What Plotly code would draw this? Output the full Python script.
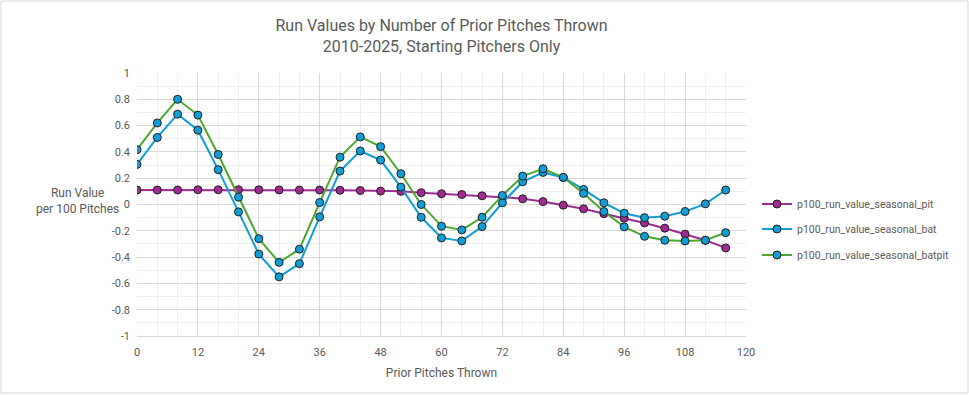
import plotly.graph_objects as go

pitches = [0, 4, 8, 12, 16, 20, 24, 28, 32, 36, 40, 44, 48, 52, 56, 60, 64, 68, 72, 76, 80, 84, 88, 92, 96, 100, 104, 108, 112, 116]
rv_pit = [0.11, 0.11, 0.11, 0.112, 0.112, 0.112, 0.112, 0.111, 0.11, 0.11, 0.108, 0.106, 0.102, 0.1, 0.09, 0.082, 0.076, 0.066, 0.056, 0.043, 0.022, -0.005, -0.033, -0.07, -0.104, -0.14, -0.18, -0.226, -0.272, -0.33]
rv_bat = [0.305, 0.51, 0.687, 0.565, 0.265, -0.056, -0.377, -0.55, -0.45, -0.094, 0.254, 0.407, 0.338, 0.132, -0.097, -0.254, -0.277, -0.168, 0.013, 0.173, 0.244, 0.206, 0.115, 0.013, -0.066, -0.10, -0.089, -0.053, 0.005, 0.11]
rv_batpit = [0.417, 0.62, 0.80, 0.68, 0.38, 0.056, -0.26, -0.44, -0.34, 0.015, 0.36, 0.514, 0.44, 0.234, 0.0, -0.165, -0.193, -0.097, 0.069, 0.216, 0.272, 0.206, 0.084, -0.053, -0.17, -0.242, -0.272, -0.277, -0.272, -0.214]

series_names = ["p100_run_value_seasonal_pit", "p100_run_value_seasonal_bat", "p100_run_value_seasonal_batpit"]
x_ticks = [0, 12, 24, 36, 48, 60, 72, 84, 96, 108, 120]
y_ticks = [1, 0.8, 0.6, 0.4, 0.2, 0, -0.2, -0.4, -0.6, -0.8, -1]
y_tick_text = ["1", "0.8", "0.6", "0.4", "0.2", "0", "-0.2", "-0.4", "-0.6", "-0.8", "-1"]

title_line1 = "Run Values by Number of Prior Pitches Thrown"
title_line2 = "2010-2025, Starting Pitchers Only"
x_title = "Prior Pitches Thrown"
y_title = "Run Value<br>per 100 Pitches"

FONT = "Roboto, Arial, sans-serif"
TXT = "#595959"
W, H = 969, 395
L, R, T, B = 137, 223, 73, 59
PW, PH = W - L - R, H - T - B

def px_x(p):
    return (p - L) / PW

def px_y(p):
    return (H - B - p) / PH

line_colors = ["#a02b93", "#0f9ed5", "#4ea72e"]
marker_fills = ["#a02b93", "#0f9ed5", "#0f9ed5"]
values = [rv_pit, rv_bat, rv_batpit]
legend_ids = ["legend", "legend2", "legend3"]
legend_y_px = [204, 229, 255]

fig = go.Figure()
for i in range(3):
    fig.add_trace(go.Scatter(
        x=pitches, y=values[i], name=series_names[i], mode="lines+markers",
        line=dict(color=line_colors[i], width=2),
        marker=dict(size=8, color=marker_fills[i], line=dict(color="#1f1f1f", width=1)),
        legend=legend_ids[i],
    ))

legend_common = dict(font=dict(family=FONT, size=10.5, color=TXT), bgcolor="rgba(0,0,0,0)",
                     xanchor="left", yanchor="middle", itemwidth=30)
layout_legends = {}
for i, lid in enumerate(legend_ids):
    layout_legends[lid] = dict(x=px_x(757), y=px_y(legend_y_px[i]), **legend_common)

fig.update_layout(
    width=W, height=H,
    margin=dict(l=L, r=R, t=T, b=B),
    paper_bgcolor="white", plot_bgcolor="white",
    font=dict(family=FONT, size=11, color=TXT),
    showlegend=True,
    title=dict(text=title_line1 + "<br>" + title_line2, x=0.5, xref="paper", xanchor="center",
               y=1 - 31 / H, yanchor="middle",
               font=dict(family=FONT, size=16, color=TXT)),
    xaxis=dict(range=[0, 120], tickvals=x_ticks, showgrid=True, gridcolor="#d9d9d9", gridwidth=1,
               minor=dict(dtick=4, showgrid=True, gridcolor="#efefef", gridwidth=1),
               zeroline=False, showline=True, linecolor="#d9d9d9", linewidth=1, ticks="",
               ticklabelstandoff=6,
               tickfont=dict(family=FONT, size=11, color=TXT),
               title=dict(text=x_title, font=dict(family=FONT, size=12, color=TXT), standoff=10)),
    yaxis=dict(range=[-1, 1], tickvals=y_ticks, ticktext=y_tick_text, showgrid=True, gridcolor="#d9d9d9", gridwidth=1,
               minor=dict(dtick=0.1, showgrid=True, gridcolor="#efefef", gridwidth=1),
               zeroline=False, showline=False, ticks="",
               ticklabelstandoff=6,
               tickfont=dict(family=FONT, size=11, color=TXT)),
    **layout_legends,
)

fig.add_annotation(text=y_title, xref="paper", yref="paper", x=px_x(77), y=px_y(201),
                   showarrow=False, xanchor="center", yanchor="middle", align="center",
                   font=dict(family=FONT, size=12, color=TXT))

fig.add_shape(type="rect", xref="paper", yref="paper",
              x0=px_x(1), x1=px_x(968), y0=px_y(393), y1=px_y(1),
              line=dict(color="#d9d9d9", width=1), fillcolor="rgba(0,0,0,0)", layer="below")

fig.write_html("out.html", config={"displayModeBar": False},
               post_script="document.body.style.margin='0px';document.body.style.padding='0px';")
